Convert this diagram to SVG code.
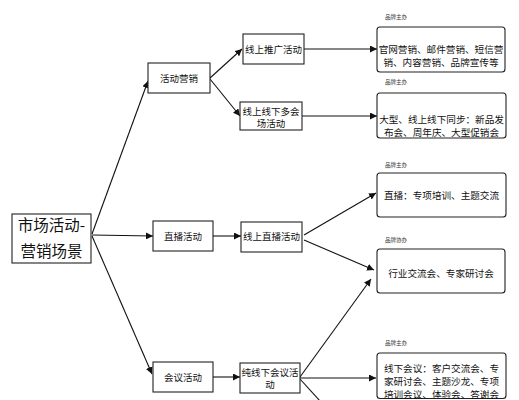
<svg xmlns="http://www.w3.org/2000/svg" width="519" height="400" viewBox="0 0 519 400">
<defs>
<style>
.bx{fill:#fff;stroke:#222;stroke-width:1.1}
.rb{fill:#fff;stroke:#222;stroke-width:1.1}
.t{font-family:"Noto Sans CJK SC","Noto Sans",sans-serif;font-size:9.5px;fill:#111;text-anchor:middle}
.r{font-family:"Noto Sans CJK SC","Noto Sans",sans-serif;font-size:9.6px;fill:#111;text-anchor:middle}
.c{font-family:"Noto Sans CJK SC","Noto Sans",sans-serif;font-size:15.5px;fill:#111;text-anchor:middle}
.s{font-family:"Noto Sans CJK SC","Noto Sans",sans-serif;font-size:5.5px;fill:#333}
.ln{fill:none;stroke:#111;stroke-width:1.1;marker-end:url(#ah)}
.lp{fill:none;stroke:#111;stroke-width:1.1}
</style>
<marker id="ah" viewBox="0 0 10 10" refX="10" refY="5" markerWidth="7" markerHeight="7" markerUnits="userSpaceOnUse" orient="auto">
<path d="M0,0 L10,5 L0,10 z" fill="#111"/>
</marker>
</defs>
<rect width="519" height="400" fill="#fff"/>
<g id="connectors">
<line class="ln" x1="92" y1="234" x2="148" y2="81"/>
<line class="ln" x1="92" y1="235" x2="153" y2="236"/>
<line class="ln" x1="92" y1="236" x2="152" y2="374"/>
<line class="ln" x1="210" y1="78" x2="242" y2="49"/>
<line class="ln" x1="210" y1="79" x2="240" y2="116"/>
<line class="ln" x1="213" y1="236" x2="241" y2="236"/>
<line class="ln" x1="213" y1="377" x2="240" y2="377"/>
<line class="ln" x1="304" y1="49" x2="377" y2="49"/>
<line class="ln" x1="302" y1="116" x2="377" y2="116"/>
<line class="ln" x1="304" y1="235" x2="376" y2="193"/>
<line class="ln" x1="304" y1="240" x2="374" y2="270"/>
<line class="ln" x1="300" y1="377" x2="371" y2="279"/>
<line class="ln" x1="300" y1="378" x2="376" y2="378"/>
<line class="lp" x1="300" y1="379" x2="330" y2="412"/>
</g>
<g id="root">
<rect class="bx" x="12" y="214" width="79" height="49"/>
<text class="c" x="51.5" y="231">市场活动-</text>
<text class="c" x="51.5" y="257">营销场景</text>
</g>
<g id="n-huodong">
<rect class="bx" x="148" y="63" width="62" height="30"/>
<text class="t" x="179" y="81.5">活动营销</text>
</g>
<g id="n-zhibo">
<rect class="bx" x="153" y="221" width="60" height="30"/>
<text class="t" x="183" y="239.5">直播活动</text>
</g>
<g id="n-huiyi">
<rect class="bx" x="153" y="362" width="60" height="30"/>
<text class="t" x="183" y="380.5">会议活动</text>
</g>
<g id="n-tuiguang">
<rect class="bx" x="243" y="34" width="61" height="30"/>
<text class="t" x="273.5" y="52.5">线上推广活动</text>
</g>
<g id="n-duohuichang">
<rect class="bx" x="240" y="102" width="62" height="28"/>
<text class="t" x="271" y="114.5">线上线下多会</text>
<text class="t" x="271" y="127">场活动</text>
</g>
<g id="n-zhibo2">
<rect class="bx" x="241" y="222" width="61" height="30"/>
<text class="t" x="271.5" y="240">线上直播活动</text>
</g>
<g id="n-chunxianxia">
<rect class="bx" x="240" y="363" width="60" height="30"/>
<text class="t" x="270" y="375.5">纯线下会议活</text>
<text class="t" x="270" y="388">动</text>
</g>
<g id="r1">
<text class="s" x="385" y="19">品牌主办</text>
<rect class="rb" x="377" y="27" width="128" height="45" rx="3"/>
<text class="r" x="441" y="52.5">官网营销、邮件营销、短信营</text>
<text class="r" x="441" y="65.5">销、内容营销、品牌宣传等</text>
</g>
<g id="r2">
<text class="s" x="385" y="84">品牌主办</text>
<rect class="rb" x="377" y="93" width="129" height="45" rx="3"/>
<text class="r" x="441.5" y="122.5">大型、线上线下同步：新品发</text>
<text class="r" x="441.5" y="135.5">布会、周年庆、大型促销会</text>
</g>
<g id="r3">
<text class="s" x="385" y="167">品牌主办</text>
<rect class="rb" x="377" y="173" width="129" height="44" rx="3"/>
<text class="r" x="441.5" y="198.5">直播：专项培训、主题交流</text>
</g>
<g id="r4">
<text class="s" x="385" y="242">品牌协办</text>
<rect class="rb" x="377" y="249" width="128" height="44" rx="3"/>
<text class="r" x="441" y="276.5">行业交流会、专家研讨会</text>
</g>
<g id="r5">
<text class="s" x="385" y="345">品牌主办</text>
<rect class="rb" x="377" y="353" width="129" height="45.5" rx="3"/>
<text class="r" x="441.5" y="371.5">线下会议：客户交流会、专</text>
<text class="r" x="441.5" y="385">家研讨会、主题沙龙、专项</text>
<text class="r" x="441.5" y="398">培训会议、体验会、答谢会</text>
</g>
</svg>
